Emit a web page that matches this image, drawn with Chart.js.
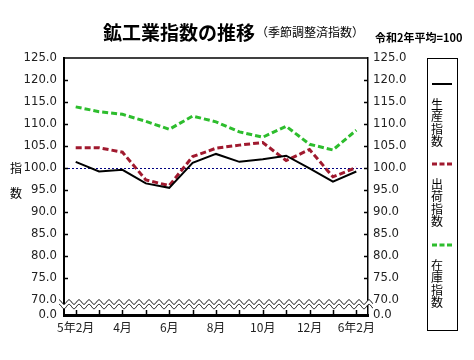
<!DOCTYPE html>
<html lang="ja">
<head>
<meta charset="UTF-8">
<title>鉱工業指数の推移</title>
<style>
  body { margin: 0; background: #fff; }
  canvas { display: block; }
</style>
</head>
<body>
<canvas id="myChart" width="474" height="360"></canvas>

<script src="https://cdn.jsdelivr.net/npm/chart.js"></script>
<script>
// データ (令和2年平均=100、季節調整済)
const months = ['5年2月', '', '4月', '', '6月', '', '8月', '', '10月', '', '12月', '', '6年2月'];
const seisan = [101.4, 99.2, 99.6, 96.5, 95.5, 101.2, 103.2, 101.4, 102.0, 102.8, 99.9, 96.9, 99.2];
const shukka = [104.6, 104.6, 103.6, 97.3, 96.0, 102.6, 104.5, 105.2, 105.8, 101.7, 104.2, 98.0, 100.1];
const zaiko  = [113.9, 112.8, 112.2, 110.6, 108.8, 111.8, 110.5, 108.2, 107.0, 109.5, 105.4, 104.1, 108.6];
const yTicks = [70, 75, 80, 85, 90, 95, 100, 105, 110, 115, 120, 125];
const kijun = 100;
const yMin = 66.6; // 0.0 (省略部分の下端)

const numFont = '"Liberation Sans Narrow", "DejaVu Sans Condensed", "Liberation Sans", sans-serif';
const jpFont = '"Noto Sans CJK JP", sans-serif';

const ctx = document.getElementById('myChart');

const kazari = {
  id: 'kazari',
  beforeDatasetsDraw(chart) {
    const c = chart.ctx, a = chart.chartArea, y = chart.scales.y;
    c.save();
    c.strokeStyle = '#000080';
    c.lineWidth = 1;
    c.setLineDash([2, 2]);
    const py = Math.round(y.getPixelForValue(kijun)) + 0.5;
    c.beginPath(); c.moveTo(a.left, py); c.lineTo(a.right, py); c.stroke();
    c.restore();
  },
  afterDraw(chart) {
    const c = chart.ctx, a = chart.chartArea, y = chart.scales.y, x = chart.scales.x;
    c.save();
    c.strokeStyle = '#000';
    c.lineWidth = 1.5;

    // 内向きの目盛
    yTicks.forEach(v => {
      if (v === 70 || v === 125) return;
      const py = Math.round(y.getPixelForValue(v)) + 0.5;
      c.beginPath();
      c.moveTo(a.left, py); c.lineTo(a.left + 4, py);
      c.moveTo(a.right - 4, py); c.lineTo(a.right, py);
      c.stroke();
    });
    months.forEach((m, i) => {
      const px = Math.round(x.getPixelForValue(i)) + 0.5;
      c.beginPath(); c.moveTo(px, a.bottom); c.lineTo(px, a.bottom - 5); c.stroke();
    });

    // 上枠
    c.lineWidth = 1.5;
    c.beginPath(); c.moveTo(a.left, a.top); c.lineTo(a.right, a.top); c.stroke();

    // 省略の波線
    const yc = y.getPixelForValue(70) + 2;
    const amp = 2.2, per = 10, gap = 4.5;
    const x0 = a.left - 5, x1 = a.right + 5;
    const wave = (px) => yc - amp * Math.cos(2 * Math.PI * (px - x0) / per);
    c.beginPath();
    for (let px = x0; px <= x1; px += 0.5) c.lineTo(px, wave(px));
    for (let px = x1; px >= x0; px -= 0.5) c.lineTo(px, wave(px) + gap);
    c.closePath();
    c.fillStyle = '#fff';
    c.fill();
    c.lineWidth = 1;
    for (const off of [0, gap]) {
      c.beginPath();
      for (let px = x0; px <= x1; px += 0.5) c.lineTo(px, wave(px) + off);
      c.stroke();
    }

    // タイトル
    c.fillStyle = '#000';
    c.textBaseline = 'middle';
    c.textAlign = 'left';
    c.font = 'bold 19px ' + jpFont;
    c.fillText('鉱工業指数の推移', 103, 33);
    c.font = '12px ' + jpFont;
    c.fillText('（季節調整済指数）', 256, 32);
    c.font = 'bold 11px ' + jpFont;
    c.fillText('令和2年平均=100', 375, 38);

    // 縦軸名
    c.font = '12px ' + jpFont;
    c.textAlign = 'center';
    c.fillText('指', 16, 168);
    c.fillText('数', 16, 193);

    // 凡例
    c.lineWidth = 1;
    c.strokeRect(427.5, 58.5, 30, 272);
    const items = [
      { name: '生産指数', color: '#000', width: 2, dash: [], y: 84 },
      { name: '出荷指数', color: '#a0192e', width: 3, dash: [5, 2.5], y: 164 },
      { name: '在庫指数', color: '#2dbd2d', width: 3, dash: [5, 2.5], y: 245 }
    ];
    c.font = '12px ' + jpFont;
    c.textAlign = 'left';
    items.forEach(it => {
      c.save();
      c.strokeStyle = it.color; c.lineWidth = it.width; c.setLineDash(it.dash);
      c.beginPath(); c.moveTo(432, it.y); c.lineTo(452, it.y); c.stroke();
      c.restore();
      [...it.name].forEach((ch, k) => c.fillText(ch, 431, it.y + 20 + k * 12.5));
    });
    c.restore();
  }
};

new Chart(ctx, {
  type: 'line',
  data: {
    labels: months,
    datasets: [
      { label: '生産指数', data: seisan, borderColor: '#000', borderWidth: 2, pointRadius: 0, tension: 0, yAxisID: 'y' },
      { label: '出荷指数', data: shukka, borderColor: '#a0192e', borderWidth: 3, borderDash: [6, 3], pointRadius: 0, tension: 0, yAxisID: 'y' },
      { label: '在庫指数', data: zaiko, borderColor: '#2dbd2d', borderWidth: 3, borderDash: [6, 3], pointRadius: 0, tension: 0, yAxisID: 'y' }
    ]
  },
  options: {
    responsive: false,
    animation: false,
    layout: { padding: { top: 58, left: 0, right: 0, bottom: 0 } },
    plugins: { legend: { display: false }, title: { display: false }, tooltip: { enabled: false } },
    scales: {
      x: {
        offset: true,
        grid: { display: false, drawTicks: false, offset: false },
        border: { color: '#000', width: 3 },
        ticks: { autoSkip: false, maxRotation: 0, padding: 5, color: '#222', font: { family: jpFont, size: 12 } },
        afterFit(s) { s.height = 45; }
      },
      y: {
        position: 'left',
        min: yMin, max: 125,
        grid: { display: false, drawTicks: false },
        border: { color: '#000', width: 2 },
        afterBuildTicks(s) { s.ticks = [{ value: yMin }].concat(yTicks.map(v => ({ value: v }))); },
        ticks: { padding: 7, color: '#222', font: { family: numFont, size: 13 },
          callback: v => v < 70 ? '0.0' : v.toFixed(1) },
        afterFit(s) { s.width = 64; }
      },
      y2: {
        position: 'right',
        min: yMin, max: 125,
        grid: { display: false, drawTicks: false },
        border: { color: '#000', width: 1.5 },
        afterBuildTicks(s) { s.ticks = [{ value: yMin }].concat(yTicks.map(v => ({ value: v }))); },
        ticks: { padding: 5, color: '#222', font: { family: numFont, size: 13 },
          callback: v => v < 70 ? '0.0' : v.toFixed(1) },
        afterFit(s) { s.width = 106; }
      }
    }
  },
  plugins: [kazari]
});
</script>
</body>
</html>
